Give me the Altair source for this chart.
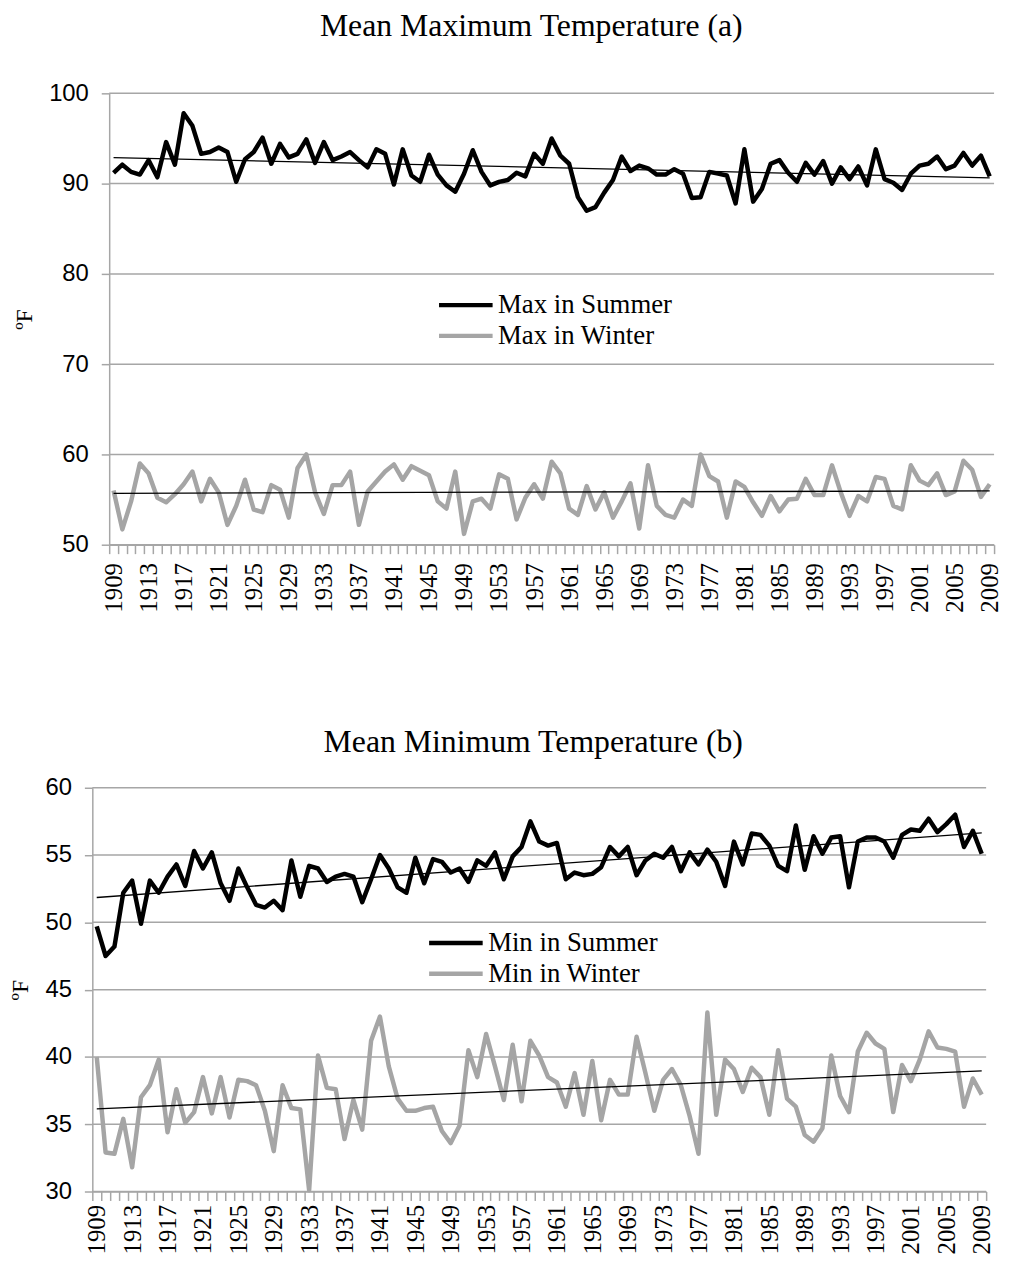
import altair as alt
import pandas as pd

years = list(range(1909, 2010))

max_summer = [91.2, 92.1, 91.3, 91.0, 92.6, 90.7, 94.6, 92.1, 97.8, 96.4,
              93.3, 93.5, 94.0, 93.5, 90.2, 92.7, 93.5, 95.1, 92.2, 94.4,
              92.9, 93.3, 94.9, 92.3, 94.6, 92.6, 93.0, 93.5, 92.6, 91.8,
              93.8, 93.3, 89.9, 93.8, 90.9, 90.2, 93.2, 91.0, 89.8, 89.1,
              91.1, 93.7, 91.3, 89.8, 90.2, 90.4, 91.2, 90.8, 93.3, 92.2,
              95.0, 93.1, 92.2, 88.5, 87.0, 87.4, 89.0, 90.4, 93.0, 91.4,
              92.0, 91.7, 91.0, 91.0, 91.6, 91.1, 88.4, 88.5, 91.3, 91.1,
              90.9, 87.8, 93.8, 88.0, 89.4, 92.2, 92.6, 91.2, 90.2, 92.3,
              91.0, 92.5, 90.0, 91.8, 90.5, 91.9, 89.8, 93.8, 90.5, 90.1,
              89.3, 91.1, 92.0, 92.2, 93.0, 91.6, 92.0, 93.4, 92.0, 93.1, 90.8]

max_winter = [56.0, 51.7, 54.8, 59.0, 57.9, 55.2, 54.7, 55.6, 56.7, 58.1,
              54.8, 57.3, 55.8, 52.2, 54.3, 57.2, 53.9, 53.6, 56.6, 56.1,
              53.0, 58.5, 60.0, 55.8, 53.4, 56.6, 56.6, 58.1, 52.2, 55.9,
              57.0, 58.1, 58.9, 57.2, 58.7, 58.2, 57.7, 54.8, 54.0, 58.1,
              51.2, 54.8, 55.1, 54.0, 57.8, 57.3, 52.8, 55.2, 56.7, 55.1,
              59.2, 57.9, 54.0, 53.3, 56.5, 53.9, 55.8, 53.0, 54.8, 56.8,
              51.8, 58.8, 54.3, 53.3, 53.0, 55.0, 54.3, 60.0, 57.6, 57.0,
              53.0, 57.0, 56.4, 54.7, 53.2, 55.4, 53.7, 55.0, 55.1, 57.3,
              55.5, 55.5, 58.8, 55.8, 53.2, 55.4, 54.8, 57.5, 57.3, 54.3,
              53.9, 58.8, 57.1, 56.6, 57.9, 55.5, 55.9, 59.3, 58.3, 55.3, 56.7]

min_summer = [49.7, 47.5, 48.2, 52.2, 53.1, 49.9, 53.1, 52.2, 53.4, 54.3,
              52.7, 55.3, 54.0, 55.2, 52.9, 51.6, 54.0, 52.6, 51.3, 51.1,
              51.6, 50.9, 54.6, 51.9, 54.2, 54.0, 53.0, 53.4, 53.6, 53.4,
              51.5, 53.2, 55.0, 54.0, 52.6, 52.2, 54.8, 52.9, 54.7, 54.5,
              53.7, 54.0, 53.0, 54.6, 54.2, 55.2, 53.2, 54.9, 55.6, 57.5,
              56.0, 55.7, 55.9, 53.2, 53.7, 53.5, 53.6, 54.1, 55.6, 54.9,
              55.6, 53.5, 54.6, 55.1, 54.8, 55.6, 53.8, 55.2, 54.3, 55.4,
              54.5, 52.7, 56.0, 54.3, 56.6, 56.5, 55.7, 54.2, 53.8, 57.2,
              53.9, 56.4, 55.1, 56.3, 56.4, 52.6, 56.0, 56.3, 56.3, 56.0,
              54.8, 56.5, 56.9, 56.8, 57.7, 56.7, 57.3, 58.0, 55.6, 56.8, 55.1]

min_winter = [40.0, 32.9, 32.8, 35.4, 31.8, 37.0, 37.9, 39.8, 34.4, 37.6,
              35.1, 35.9, 38.5, 35.8, 38.5, 35.5, 38.3, 38.2, 37.9, 36.0,
              33.0, 37.9, 36.2, 36.1, 30.1, 40.1, 37.7, 37.6, 33.9, 36.8,
              34.6, 41.2, 43.0, 39.3, 36.9, 36.0, 36.0, 36.2, 36.3, 34.5,
              33.6, 34.9, 40.5, 38.5, 41.7, 39.3, 36.8, 40.9, 36.7, 41.2,
              40.1, 38.5, 38.1, 36.3, 38.8, 35.7, 39.7, 35.3, 38.3, 37.2,
              37.2, 41.5, 38.8, 36.0, 38.3, 39.1, 37.9, 35.6, 32.8, 43.3,
              35.7, 39.8, 39.1, 37.4, 39.2, 38.5, 35.7, 40.5, 36.9, 36.3,
              34.2, 33.7, 34.7, 40.1, 37.1, 35.9, 40.4, 41.8, 41.0, 40.6,
              35.9, 39.4, 38.2, 39.8, 41.9, 40.7, 40.6, 40.4, 36.3, 38.4, 37.2]

names_a = ["Max in Summer", "Max in Winter"]
names_b = ["Min in Summer", "Min in Winter"]
title_a = "Mean Maximum Temperature (a)"
title_b = "Mean Minimum Temperature (b)"
ticks_a = [50, 60, 70, 80, 90, 100]
ticks_b = [30, 35, 40, 45, 50, 55, 60]
label_years = years[::4]
tick_bounds = [years[0] - 0.5 + i for i in range(len(years) + 1)]

SERIF = "Liberation Serif"
SANS = "Liberation Sans"
GRID = "#a6a6a6"
GRAY_LINE = "#a5a5a5"


def panel(summer, winter, names, title, yticks, plot_w, height, xoff,
          lx, ly, toff, tdx, tpad, lpad):
    n = len(years)
    df = pd.DataFrame({
        "year": years + years,
        "value": summer + winter,
        "series": [names[0]] * n + [names[1]] * n,
    })
    grid_df = pd.DataFrame({"value": yticks})
    xscale = alt.Scale(domain=[tick_bounds[0], tick_bounds[-1]],
                       range=[xoff, xoff + plot_w], nice=False, zero=False)
    x_labels = alt.X(
        "year:Q", scale=xscale,
        axis=alt.Axis(
            orient="bottom",
            values=label_years,
            format="d",
            labelAngle=-90,
            labelFont=SERIF,
            labelFontSize=25,
            labelColor="black",
            labelOverlap=False,
            labelFlush=False,
            labelPadding=lpad,
            ticks=False,
            tickSize=0,
            domain=False,
            grid=False,
            title=None,
        ),
    )
    x_ticks = alt.X(
        "year:Q", scale=xscale,
        axis=alt.Axis(
            orient="bottom",
            values=tick_bounds,
            labels=False,
            tickSize=9,
            tickColor=GRID,
            tickWidth=1.5,
            domainColor=GRID,
            domainWidth=1.5,
            grid=False,
            title=None,
        ),
    )
    y = alt.Y(
        "value:Q",
        scale=alt.Scale(domain=[yticks[0], yticks[-1]], nice=False, zero=False),
        axis=alt.Axis(
            values=yticks,
            offset=-xoff,
            labelFont=SANS,
            labelFontSize=24,
            labelColor="black",
            labelPadding=13,
            tickSize=8,
            tickColor=GRID,
            tickWidth=1.5,
            domainColor=GRID,
            domainWidth=1.5,
            grid=False,
            title="ºF",
            titleFont=SERIF,
            titleFontSize=24,
            titleFontWeight="normal",
            titleColor="black",
            titlePadding=tpad,
        ),
    )
    grid = alt.Chart(grid_df).mark_rule(color=GRID, strokeWidth=1.5).encode(
        x=alt.XDatum(tick_bounds[0], type="quantitative", axis=None),
        x2=alt.X2Datum(tick_bounds[-1]),
        y=y,
    )
    base = alt.Chart(df)
    lines = base.mark_line(strokeWidth=4.5, strokeJoin="round").encode(
        x=x_labels,
        y=y,
        color=alt.Color(
            "series:N",
            scale=alt.Scale(domain=names, range=["black", GRAY_LINE]),
            legend=alt.Legend(
                title=None,
                orient="none",
                legendX=lx,
                legendY=ly,
                symbolType="M-1.8,0H1.8",
                symbolSize=900,
                symbolStrokeWidth=4.5,
                labelFont=SERIF,
                labelFontSize=27,
                labelColor="black",
                labelOffset=15,
                labelLimit=400,
                rowPadding=0,
                padding=0,
            ),
        ),
    )
    trend = base.transform_regression(
        "year", "value", groupby=["series"]
    ).mark_line(color="black", strokeWidth=1.3).encode(
        x=x_ticks, y=y, detail="series:N"
    )
    return alt.layer(grid, lines, trend).resolve_axis(x="independent").properties(
        width=xoff + plot_w,
        height=height,
        title=alt.TitleParams(
            text=title, font=SERIF, fontSize=32, fontWeight="normal",
            color="black", anchor="middle", frame="group", offset=toff, dx=tdx,
        ),
    )


a = panel(max_summer, max_winter, names_a, title_a, ticks_a, 892, 455, 17,
          359, 196, 39, -12, 12, 18)
b = panel(min_summer, min_winter, names_b, title_b, ticks_b, 901, 407, 0,
          349, 139, 17, -6, 13, 13)

chart = alt.vconcat(a, b, spacing=115).resolve_scale(color="independent").properties(
    padding={"left": 0, "top": -3, "right": 0, "bottom": 0},
    background="white",
).configure_view(stroke=None)

chart.save("out.html", embed_options={"renderer": "svg", "actions": False})
